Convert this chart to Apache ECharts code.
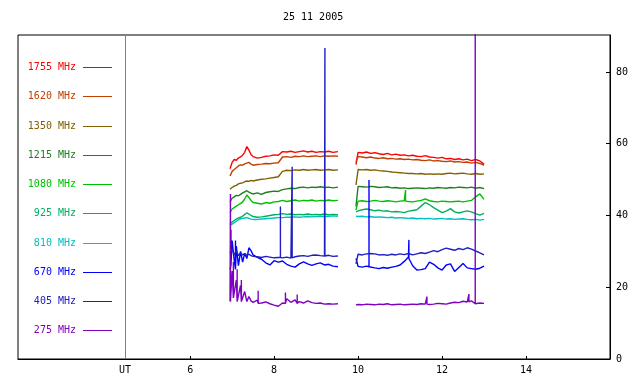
<!DOCTYPE html>
<html>
<head>
<meta charset="utf-8">
<script src="https://cdn.jsdelivr.net/npm/echarts@6/dist/echarts.min.js"></script>
<style>
  html, body { margin: 0; padding: 0; background: #fff; }
  #chart { width: 640px; height: 384px; }
</style>
</head>
<body>
<div id="chart"></div>
<script>
const title = '25 11 2005'
const freqs = ['1755 MHz', '1620 MHz', '1350 MHz', '1215 MHz', '1080 MHz', '925 MHz', '810 MHz', '670 MHz', '405 MHz', '275 MHz']
const colors = ['#ff0000', '#c04000', '#806000', '#208020', '#00c000', '#00b060', '#00c0c0', '#0000ff', '#2020c0', '#8000c0']
const xTicks = [6, 8, 10, 12, 14]
const utMark = 4.45
const yTicks = [0, 20, 40, 60, 80]

// UT hours, two observing blocks
const times = [6.95, 7.0, 7.05, 7.1, 7.15, 7.2, 7.25, 7.3, 7.35, 7.4, 7.45, 7.5, 7.6, 7.7, 7.8, 7.9, 8.0, 8.1, 8.2, 8.3, 8.4, 8.5, 8.6, 8.7, 8.8, 8.9, 9.0, 9.1, 9.2, 9.3, 9.4, 9.52,
  9.95, 10.0, 10.1, 10.2, 10.3, 10.4, 10.5, 10.6, 10.7, 10.8, 10.9, 11.0, 11.1, 11.2, 11.3, 11.4, 11.5, 11.6, 11.7, 11.8, 11.9, 12.0, 12.1, 12.2, 12.3, 12.4, 12.5, 12.6, 12.7, 12.8, 12.9, 13.0]

const f1755 = [53.0, 54.8, 55.6, 55.4, 56.0, 56.3, 56.8, 57.6, 59.2, 58.2, 57.0, 56.4, 56.0, 56.2, 56.5, 56.6, 56.9, 56.8, 57.8, 57.7, 57.9, 57.6, 57.8, 58.0, 57.7, 57.9, 57.6, 57.8, 57.7, 57.9, 57.6, 57.8,
  54.2, 57.6, 57.4, 57.7, 57.3, 57.5, 57.2, 57.0, 57.3, 56.9, 57.1, 56.8, 56.9, 56.6, 56.8, 56.5, 56.4, 56.7, 56.3, 56.2, 56.0, 56.2, 55.8, 55.9, 55.6, 55.8, 55.5, 55.7, 55.3, 55.6, 55.2, 54.3]
const f1620 = [51.0, 52.3, 52.8, 53.3, 53.8, 54.1, 54.0, 54.4, 54.6, 54.8, 54.3, 54.0, 54.2, 54.3, 54.5, 54.4, 54.6, 54.7, 56.3, 56.4, 56.2, 56.5, 56.4, 56.6, 56.4, 56.5, 56.6, 56.4, 56.6, 56.5, 56.6, 56.5,
  55.0, 56.4, 56.3, 56.1, 56.3, 56.0, 55.9, 56.1, 55.8, 55.9, 55.7, 55.8, 55.6, 55.7, 55.5, 55.6, 55.4, 55.3, 55.5, 55.2, 55.3, 55.1, 55.0, 55.2, 54.9, 55.0, 54.8, 54.9, 54.6, 54.8, 54.5, 54.0]
const f1350 = [47.3, 47.8, 48.2, 48.4, 48.8, 49.0, 49.1, 49.4, 49.6, 49.5, 49.8, 49.6, 49.9, 50.1, 50.2, 50.4, 50.6, 50.8, 52.3, 52.6, 52.5, 52.7, 52.6, 52.8, 52.6, 52.7, 52.8, 52.6, 52.7, 52.8, 52.6, 52.7,
  48.5, 52.8, 52.7, 52.8, 52.6, 52.7, 52.5, 52.4, 52.3, 52.1, 52.0, 51.9, 51.8, 51.7, 51.7, 51.6, 51.7, 51.5, 51.6, 51.5, 51.6, 51.5, 51.7, 51.8, 51.6, 51.7, 51.8, 51.6, 51.5, 51.7, 51.5, 51.6]
const f1215 = [43.8, 44.8, 45.2, 45.6, 45.5, 45.9, 46.3, 46.6, 46.9, 46.5, 46.2, 46.0, 46.3, 45.9, 46.4, 46.6, 46.8, 46.7, 47.2, 47.4, 47.6, 47.5, 47.8, 47.9, 47.7, 47.9, 47.8, 48.0, 47.8, 47.9, 47.7, 47.9,
  42.5, 48.1, 48.0, 47.9, 48.1, 48.0, 47.8, 47.9, 48.0, 47.7, 47.8, 47.6, 47.7, 47.5, 47.6, 47.7, 47.6, 47.5, 47.7, 47.6, 47.8, 47.7, 47.6, 47.8, 47.7, 47.9, 47.8, 47.7, 47.9, 47.6, 47.8, 47.5]
const f1080 = [40.8, 41.8, 42.2, 42.6, 43.0, 43.3, 43.8, 44.6, 45.7, 45.0, 44.2, 43.6, 43.4, 43.2, 43.6, 43.4, 43.8, 43.9, 44.2, 43.9, 44.1, 44.3, 44.0, 44.2, 44.1, 44.3, 44.0, 44.2, 44.1, 44.3, 44.1, 44.2,
  41.5, 44.0, 44.1, 43.9, 44.0, 44.2, 44.0, 43.9, 44.1, 44.0, 43.8, 44.0, 44.1, 43.9, 43.8, 44.0, 44.2, 44.6, 44.1, 43.9, 43.8, 44.0, 43.9, 43.8, 43.9, 44.0, 43.8, 44.0, 44.2, 45.2, 46.0, 44.5]
const f925 = [37.6, 38.2, 38.6, 39.0, 39.3, 39.5, 39.8, 40.3, 40.7, 40.4, 40.0, 39.7, 39.5, 39.6, 39.8, 40.0, 40.2, 40.3, 40.5, 40.3, 40.4, 40.2, 40.3, 40.2, 40.4, 40.2, 40.3, 40.2, 40.4, 40.2, 40.3, 40.2,
  41.0, 41.3, 41.6, 41.8, 41.6, 41.3, 41.5, 41.2, 41.3, 41.0, 41.1, 41.0, 40.8, 41.2, 41.4, 41.6, 42.6, 43.6, 43.0, 42.2, 41.5, 40.8, 41.2, 41.9, 41.0, 40.7, 41.0, 41.3, 41.0, 40.5, 40.1, 40.6]
const f810 = [37.2, 37.6, 38.0, 38.4, 38.8, 39.1, 39.2, 39.3, 39.4, 39.2, 39.0, 38.9, 38.9, 39.0, 39.1, 39.2, 39.3, 39.4, 39.4, 39.5, 39.5, 39.6, 39.5, 39.6, 39.7, 39.6, 39.7, 39.8, 39.7, 39.8, 39.9, 39.8,
  39.8, 39.7, 39.8, 39.6, 39.7, 39.5, 39.6, 39.5, 39.4, 39.5, 39.3, 39.4, 39.3, 39.2, 39.3, 39.1, 39.2, 39.1, 39.2, 39.0, 39.1, 39.2, 39.0, 39.1, 38.9, 39.0, 39.1, 38.9, 38.8, 38.9, 38.7, 38.9]
const f670 = [25.0, 33.0, 27.5, 31.5, 26.0, 30.0, 27.0, 29.5, 28.0, 31.0, 30.2, 29.0, 28.3, 27.8, 26.8, 26.2, 27.4, 27.0, 27.3, 26.4, 25.9, 25.6, 26.5, 27.1, 26.5, 26.1, 26.5, 26.8, 26.2, 26.4, 25.9, 25.7,
  28.0, 25.8, 25.6, 25.9, 25.6, 25.4, 25.2, 25.5, 25.3, 25.6, 25.8, 26.2, 27.2, 28.4, 26.0, 24.8, 24.9, 25.2, 27.0, 26.4, 25.4, 24.8, 26.2, 26.5, 24.4, 25.5, 26.6, 25.4, 25.2, 25.0, 25.3, 25.9]
const f405 = [29.5, 30.8, 29.0, 30.2, 28.8, 29.6, 29.0, 29.4, 28.9, 29.2, 28.8, 28.6, 28.5, 28.3, 28.6, 28.4, 28.2, 28.3, 28.2, 28.4, 28.1, 28.5, 28.7, 28.8, 28.6, 28.9, 29.0, 28.8, 28.7, 28.9, 28.6, 28.7,
  26.5, 29.2, 29.0, 29.3, 29.4, 29.3, 29.0, 29.1, 28.9, 29.2, 29.0, 29.3, 29.1, 29.4, 29.0, 29.3, 29.6, 29.4, 29.8, 30.2, 29.9, 30.5, 30.9, 30.6, 30.3, 30.8, 30.5, 31.0, 30.6, 30.1, 29.6, 29.0]
const f275 = [16.0, 24.5, 17.0, 22.0, 16.2, 20.5, 16.5, 18.8, 16.0, 17.4, 16.2, 15.8, 16.4, 15.6, 15.9, 15.4, 15.0, 14.7, 15.6, 16.8, 15.8, 16.5, 16.0, 15.6, 16.2, 15.7, 15.5, 15.6, 15.3, 15.4, 15.3, 15.4,
  15.1, 15.2, 15.1, 15.3, 15.2, 15.1, 15.3, 15.2, 15.4, 15.1, 15.2, 15.3, 15.1, 15.2, 15.3, 15.2, 15.4, 15.3, 15.2, 15.3, 15.5, 15.4, 15.3, 15.6, 15.8, 15.7, 16.1, 15.9, 16.2, 15.4, 15.6, 15.5]

// single-sample spikes: [channel, UT, base, peak]
const spikes = [
  ['1080 MHz', 11.13, 44.0, 47.1],
  ['670 MHz', 6.97, 26.0, 36.0],
  ['670 MHz', 7.08, 25.0, 33.0],
  ['670 MHz', 10.26, 25.7, 49.9],
  ['670 MHz', 11.21, 28.0, 33.2],
  ['405 MHz', 8.15, 28.3, 42.5],
  ['405 MHz', 8.43, 28.2, 53.6],
  ['405 MHz', 9.21, 28.7, 86.7],
  ['275 MHz', 6.96, 16.0, 46.0],
  ['275 MHz', 7.03, 17.0, 27.0],
  ['275 MHz', 7.12, 16.0, 25.0],
  ['275 MHz', 7.22, 16.0, 22.0],
  ['275 MHz', 7.62, 15.5, 19.0],
  ['275 MHz', 8.27, 15.5, 18.5],
  ['275 MHz', 8.55, 15.5, 18.0],
  ['275 MHz', 11.64, 15.3, 17.4],
  ['275 MHz', 12.64, 15.9, 18.1],
  ['275 MHz', 12.79, 15.4, 95.0]
]

const values = [f1755, f1620, f1350, f1215, f1080, f925, f810, f670, f405, f275]
const font = '"DejaVu Sans Mono", monospace'

const buildData = (vals, name) => {
  const pts = []
  times.forEach((t, k) => {
    // break the line between the two observing blocks
    if (k > 0 && t - times[k - 1] > 0.3) pts.push([(t + times[k - 1]) / 2, '-'])
    pts.push([t, vals[k]])
  })
  spikes.filter(s => s[0] === name).forEach(s => {
    pts.push([s[1], s[2]], [s[1], s[3]], [s[1], s[2]])
  })
  pts.sort((a, b) => a[0] - b[0])
  return pts
}

const series = freqs.map((name, i) => ({
  name,
  type: 'line',
  data: buildData(values[i], name),
  symbol: 'none',
  showSymbol: false,
  silent: true,
  lineStyle: { color: colors[i], width: 1.4 },
  itemStyle: { color: colors[i] },
  emphasis: { disabled: true },
  z: 2 + i
}))

series[0].markLine = {
  silent: true,
  symbol: 'none',
  label: { show: false },
  lineStyle: { color: '#808080', width: 1, type: 'solid' },
  data: [{ xAxis: utMark }]
}

const legendItems = []
freqs.forEach((name, i) => {
  const y = Math.round(67 + 29.25 * i) + 0.5
  legendItems.push({
    type: 'text', x: 76, y,
    style: { text: name, fill: colors[i], font: '10px ' + font, align: 'right', verticalAlign: 'middle' }
  })
  legendItems.push({
    type: 'line',
    shape: { x1: 83, y1: y, x2: 112, y2: y },
    style: { stroke: colors[i], lineWidth: 1 }
  })
})

const myChart = echarts.init(document.getElementById('chart'))
myChart.setOption({
  animation: false,
  backgroundColor: '#fff',
  title: {
    text: title, left: 283, top: 12, padding: 0,
    textStyle: { fontSize: 10, fontWeight: 'normal', color: '#000', fontFamily: font }
  },
  grid: { left: 18, right: 30, top: 35, bottom: 25, show: true, borderColor: '#000', borderWidth: 1 },
  xAxis: {
    type: 'value', min: 1.9, max: 16,
    axisLine: { lineStyle: { color: '#000', width: 1 } },
    axisTick: { inside: true, length: 3, customValues: xTicks, lineStyle: { color: '#000' } },
    axisLabel: {
      customValues: [utMark].concat(xTicks), margin: 6,
      fontSize: 10, color: '#000', fontFamily: font,
      formatter: v => (v < 5 ? 'UT' : String(v))
    },
    splitLine: { show: false }
  },
  yAxis: {
    type: 'value', position: 'right', min: 0, max: 90.3,
    axisLine: { show: true, lineStyle: { color: '#000', width: 1 } },
    axisTick: { show: true, inside: true, length: 4, customValues: yTicks, lineStyle: { color: '#000' } },
    axisLabel: { customValues: yTicks, margin: 6, fontSize: 10, color: '#000', fontFamily: font },
    splitLine: { show: false }
  },
  graphic: legendItems,
  series
})
window.addEventListener('resize', () => {
  myChart.resize()
})
</script>
</body>
</html>
